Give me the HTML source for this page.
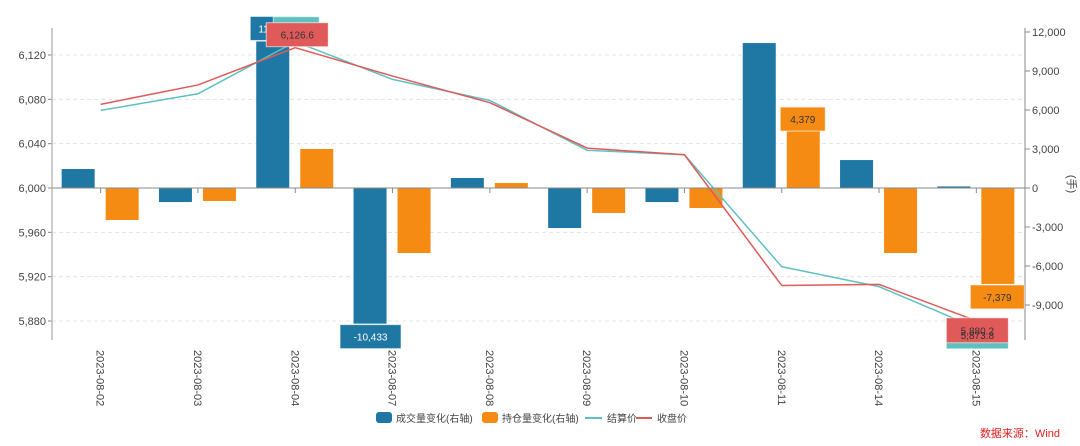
<!DOCTYPE html>
<html><head><meta charset="utf-8"><style>
body{margin:0;background:#fff;}
svg{display:block;font-family:"Liberation Sans","Noto Sans CJK SC",sans-serif;}
</style></head><body>
<svg id="chart" width="1080" height="446">
<g id="grid"></g><g id="bars"></g><g id="lines"></g><g id="axes"></g><g id="labels"></g>
<g id="legend">
 <rect x="376" y="412" width="16" height="11" rx="3" fill="#1f77a4"/>
 <text x="396" y="422" font-size="10" fill="#444">成交量变化(右轴)</text>
 <rect x="482" y="412" width="16" height="11" rx="3" fill="#f68b13"/>
 <text x="502" y="422" font-size="10" fill="#444">持仓量变化(右轴)</text>
 <line x1="585" y1="418" x2="602" y2="418" stroke="#5fc0c0" stroke-width="2"/>
 <text x="607" y="422" font-size="10" fill="#444">结算价</text>
 <line x1="636" y1="418" x2="652" y2="418" stroke="#e05a5a" stroke-width="2"/>
 <text x="657" y="422" font-size="10" fill="#444">收盘价</text>
</g>
<text x="1060" y="437" font-size="11" fill="#e02020" text-anchor="end">数据来源：Wind</text>
<text transform="translate(1068,184) rotate(90)" font-size="11" fill="#444" text-anchor="middle">(手)</text>
</svg>
<script>
const categories=["2023-08-02","2023-08-03","2023-08-04","2023-08-07","2023-08-08","2023-08-09","2023-08-10","2023-08-11","2023-08-14","2023-08-15"];
const volumeChange=[1460,-1080,11273,-10433,770,-3080,-1080,11150,2150,120];
const oiChange=[-2460,-1000,3000,-5000,380,-1920,-1540,4379,-5000,-7379];
const settle=[6070,6085,6132,6098,6079,6034,6030,5929,5911,5873.8];
const closePx=[6075.5,6093,6126.6,6101,6077,6036,6030,5912,5913,5880.2];
const leftTicks=[5880,5920,5960,6000,6040,6080,6120];
const rightTicks=[-9000,-6000,-3000,0,3000,6000,9000,12000];
const NS='http://www.w3.org/2000/svg';
const X0=52,X1=1025,YT=28,YB=340;
const bw=(X1-X0)/categories.length;
const xc=i=>X0+bw*(i+0.5);
const yL=v=>188-(v-6000)*44.33/40;
const yR=v=>188-v*13/1000;
function el(p,t,a){const e=document.createElementNS(NS,t);for(const k in a)e.setAttribute(k,a[k]);p.appendChild(e);return e;}
const grid=document.getElementById('grid'),axes=document.getElementById('axes'),bars=document.getElementById('bars'),lines=document.getElementById('lines'),labels=document.getElementById('labels');
leftTicks.forEach(v=>{const y=yL(v);
 const g=el(grid,'line',{x1:X0,x2:X1,y1:y,y2:y,stroke:'#e4e4e4','stroke-dasharray':'4,3'});
 
 const t=el(axes,'text',{x:X0-6,y:y+4,'font-size':11,fill:'#444','text-anchor':'end'});t.textContent=v.toLocaleString('en-US');
 
 el(axes,'line',{x1:X0-4,x2:X0,y1:y,y2:y,stroke:'#888'});
});
rightTicks.forEach(v=>{const y=yR(v);
 el(axes,'line',{x1:X1,x2:X1+5,y1:y,y2:y,stroke:'#888'});
 const t=el(axes,'text',{x:X1+7,y:y+4,'font-size':11,fill:'#444'});t.textContent=v.toLocaleString('en-US');
 
});
el(axes,'line',{x1:X0,x2:X0,y1:YT,y2:YB,stroke:'#bbb','stroke-width':1.5});
el(axes,'line',{x1:X1,x2:X1,y1:YT,y2:YB,stroke:'#888'});
el(axes,'line',{x1:X0,x2:X1,y1:yR(0),y2:yR(0),stroke:'#888'});
categories.forEach((c,i)=>{const x=xc(i);
 el(axes,'line',{x1:x,x2:x,y1:yR(0),y2:yR(0)+5,stroke:'#888'});
 const t=el(axes,'text',{transform:`translate(${x-4},350) rotate(90)`,'font-size':11,fill:'#444'});t.textContent=c;
 
 const v=volumeChange[i],o=oiChange[i];
 const b=el(bars,'rect',{x:x-39,y:Math.min(yR(0),yR(v)),width:33,height:Math.abs(yR(v)-yR(0)),fill:'#1f77a4'});
 
 const b2=el(bars,'rect',{x:x+5,y:Math.min(yR(0),yR(o)),width:33,height:Math.abs(yR(o)-yR(0)),fill:'#f68b13'});
 
});
function line(arr,col,name){const p=el(lines,'polyline',{points:arr.map((v,i)=>xc(i)+','+yL(v)).join(' '),fill:'none',stroke:col,'stroke-width':1.5});
 }
line(settle,'#5fc0c0','settle-line');line(closePx,'#e05a5a','close-line');
function tag(x,y,w,h,fill,txt,tc,name){const r=el(labels,'rect',{x:x-w/2,y:y,width:w,height:h,fill:fill,stroke:'rgba(255,255,255,0.6)'});
 
 const t=el(labels,'text',{x:x,y:y+h/2+4,'font-size':10,fill:tc,'text-anchor':'middle'});t.textContent=txt;}
function fmt(v,d){return v.toLocaleString('en-US',{minimumFractionDigits:d,maximumFractionDigits:d});}
function idxMax(a){return a.indexOf(Math.max(...a));}function idxMin(a){return a.indexOf(Math.min(...a));}
let i;
i=idxMax(volumeChange);tag(xc(i)-22,yR(volumeChange[i])-25,46,24,'#1f77a4',fmt(volumeChange[i],0),'#fff','label-volume-max');
i=idxMax(settle);tag(xc(i)+1,yL(settle[i])-25,46,24,'#5fc0c0',fmt(settle[i],0),'#333','label-settle-max');
i=idxMax(closePx);tag(xc(i)+2,yL(closePx[i])-25,62,24,'#e05a5a',fmt(closePx[i],1),'#333','label-close-max');
i=idxMin(volumeChange);tag(xc(i)-22,yR(volumeChange[i])+1,61,24,'#1f77a4',fmt(volumeChange[i],0),'#fff','label-volume-min');
i=idxMax(oiChange);tag(xc(i)+21,yR(oiChange[i])-24,45,24,'#f68b13',fmt(oiChange[i],0),'#333','label-oi-max');
i=idxMin(oiChange);tag(xc(i)+21,yR(oiChange[i])+1,54,24,'#f68b13',fmt(oiChange[i],0),'#333','label-oi-min');
i=idxMin(settle);tag(xc(i)+1,yL(settle[i])-3,62,24,'#5fc0c0','','#333','label-settle-min');
i=idxMin(closePx);tag(xc(i)+1,yL(closePx[i])-3,62,25,'#e05a5a',fmt(closePx[i],1),'#333','label-close-min');
el(labels,'text',{x:xc(i)+1,y:yL(closePx[i])+18,'font-size':10,fill:'#333','text-anchor':'middle'}).textContent=fmt(settle[idxMin(settle)],1);
</script>
</body></html>
